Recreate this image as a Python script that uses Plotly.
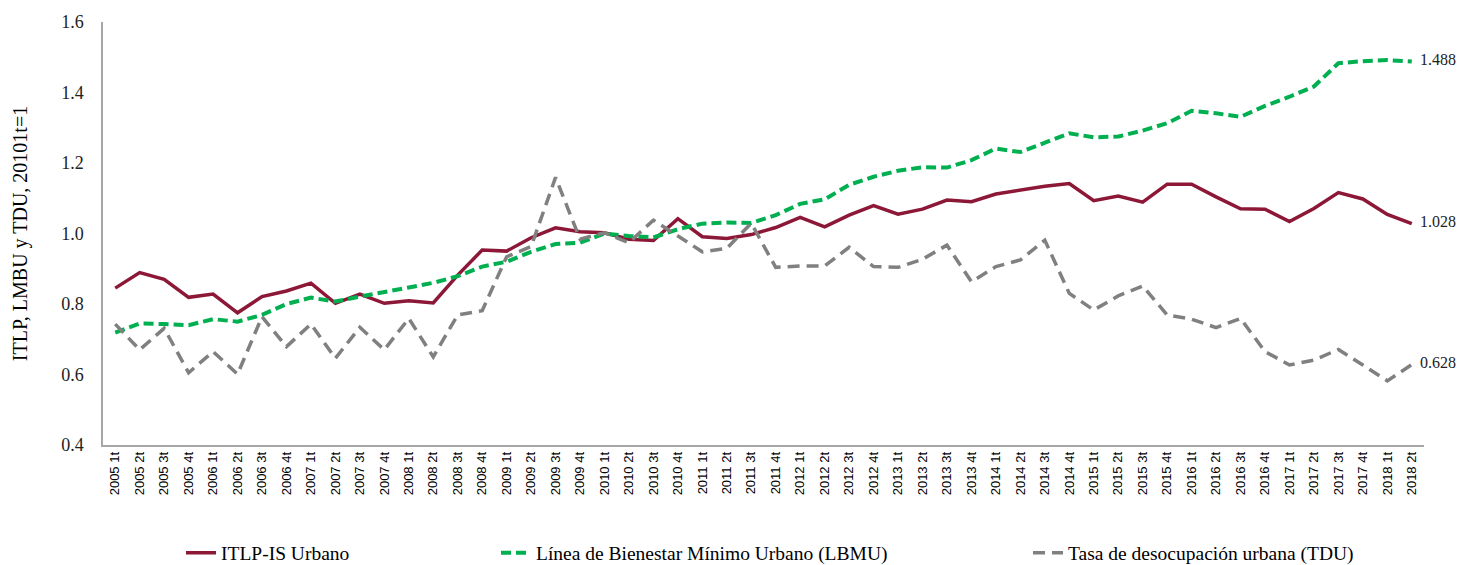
import plotly.graph_objects as go

quarters = []
for yr in range(2005, 2019):
    for q in range(1, 5):
        if yr == 2018 and q > 2:
            break
        quarters.append(f"{yr} {q}t")

itlp = [0.845, 0.889, 0.870, 0.819, 0.828, 0.775, 0.821, 0.837, 0.859, 0.802,
        0.828, 0.802, 0.809, 0.803, 0.882, 0.953, 0.950, 0.988, 1.016, 1.005,
        1.002, 0.984, 0.980, 1.042, 0.991, 0.986, 0.997, 1.017, 1.046, 1.019,
        1.052, 1.079, 1.055, 1.069, 1.095, 1.090, 1.112, 1.123, 1.134, 1.142,
        1.093, 1.106, 1.089, 1.140, 1.140, 1.104, 1.070, 1.069, 1.034, 1.071,
        1.116, 1.098, 1.054, 1.028]

lbmu = [0.719, 0.745, 0.743, 0.740, 0.757, 0.750, 0.769, 0.800, 0.818, 0.807,
        0.821, 0.835, 0.847, 0.860, 0.879, 0.906, 0.920, 0.948, 0.970, 0.974,
        1.000, 0.993, 0.989, 1.012, 1.028, 1.031, 1.030, 1.052, 1.084, 1.097,
        1.138, 1.161, 1.178, 1.188, 1.187, 1.208, 1.241, 1.231, 1.257, 1.284,
        1.273, 1.275, 1.292, 1.313, 1.348, 1.341, 1.331, 1.362, 1.388, 1.417,
        1.483, 1.489, 1.492, 1.488]

tdu = [0.743, 0.670, 0.731, 0.605, 0.665, 0.601, 0.764, 0.679, 0.743, 0.646,
       0.734, 0.670, 0.759, 0.650, 0.769, 0.781, 0.934, 0.963, 1.159, 0.984,
       1.002, 0.974, 1.038, 0.993, 0.948, 0.958, 1.029, 0.904, 0.908, 0.908,
       0.961, 0.906, 0.904, 0.927, 0.967, 0.863, 0.906, 0.925, 0.981, 0.830,
       0.783, 0.823, 0.851, 0.769, 0.757, 0.733, 0.759, 0.665, 0.627, 0.641,
       0.671, 0.627, 0.582, 0.628]

names = ["ITLP-IS Urbano",
         "Línea de Bienestar Mínimo Urbano (LBMU)",
         "Tasa de desocupación urbana (TDU)"]
end_labels = ["1.028", "1.488", "0.628"]

SERIF = "Liberation Serif"
RED = "#8C1736"
GREEN = "#00B050"
GRAY = "#808080"

fig = go.Figure()
fig.add_trace(go.Scatter(x=quarters, y=itlp, mode="lines", name=names[0], showlegend=True,
                         line=dict(color=RED, width=3.5), legend="legend"))
fig.add_trace(go.Scatter(x=quarters, y=lbmu, mode="lines", name=names[1], showlegend=True,
                         line=dict(color=GREEN, width=4, dash="10px,5px"), legend="legend2"))
fig.add_trace(go.Scatter(x=quarters, y=tdu, mode="lines", name=names[2], showlegend=True,
                         line=dict(color=GRAY, width=3.5, dash="12px,7px"), legend="legend3"))

for series, lab in zip([itlp, lbmu, tdu], end_labels):
    fig.add_annotation(x=quarters[-1], y=series[-1], text=lab, showarrow=False,
                       xanchor="left", yanchor="middle", xshift=6, yshift=2,
                       font=dict(family=SERIF, size=16, color="#222222"))

W, H = 1466, 565
leg_common = dict(orientation="h", yanchor="middle", y=20 / H, yref="container",
                  xref="container", xanchor="left",
                  font=dict(family=SERIF, size=19.5, color="#000000"),
                  bgcolor="rgba(0,0,0,0)")
fig.update_layout(
    width=W, height=H, showlegend=True,
    margin=dict(l=95, r=50, t=14, b=128, autoexpand=False),
    paper_bgcolor="white", plot_bgcolor="white",
    legend=dict(x=173 / W, **leg_common),
    legend2=dict(x=488 / W, **leg_common),
    legend3=dict(x=1020 / W, **leg_common),
    xaxis=dict(type="category", range=[-0.5, len(quarters) - 0.5], tickangle=-90,
               showgrid=False, automargin=False,
               showline=True, linecolor="#A6A6A6", linewidth=1.5,
               ticks="", tickfont=dict(family="Liberation Sans", size=13, color="#000000")),
    yaxis=dict(range=[0.4, 1.6], dtick=0.2, tickformat=".1f", showgrid=False,
               showline=True, linecolor="#A6A6A6", linewidth=1.5, ticks="",
               automargin=False, ticklabelstandoff=14, zeroline=False,
               tickfont=dict(family=SERIF, size=18, color="#222222"),
               title=dict(text="ITLP, LMBU y TDU, 20101t=1", standoff=28,
                          font=dict(family=SERIF, size=20, color="#000000"))),
)

fig.write_html("out.html")
